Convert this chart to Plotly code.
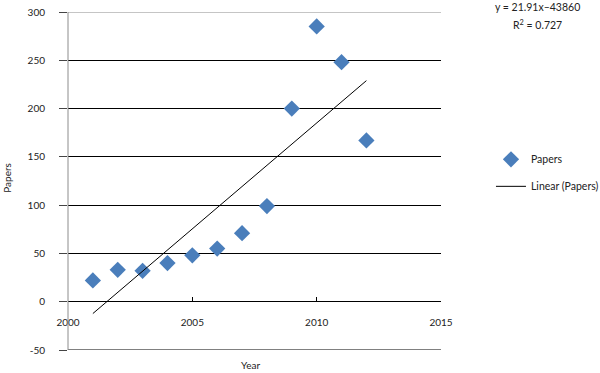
import numpy as np
import plotly.graph_objects as go

years = [2001, 2002, 2003, 2004, 2005, 2006, 2007, 2008, 2009, 2010, 2011, 2012]
papers = [22, 33, 32, 40, 48, 55, 71, 99, 200, 285, 248, 167]
x_ticks = [2000, 2005, 2010, 2015]
y_ticks = [-50, 0, 50, 100, 150, 200, 250, 300]
y_tick_text = ["-50", "0", "50", "100", "150", "200", "250", "300"]
equation = "y = 21.91x\u201343860"
r2_text = "R<sup>2</sup> = 0.727"

slope, intercept = np.polyfit(years, papers, 1)
trend_x = [years[0], years[-1]]
trend_y = [slope * v + intercept for v in trend_x]

FONT = "Lato, Open Sans, sans-serif"
TXT = "#222222"
fig = go.Figure()
fig.add_trace(go.Scatter(
    x=years, y=papers, mode="markers", name="Papers",
    marker=dict(symbol="diamond", size=12.5, color="#4A7EBB"),
    legendgroup="a", cliponaxis=False))
fig.add_trace(go.Scatter(
    x=trend_x, y=trend_y, mode="lines", name="Linear (Papers)",
    line=dict(color="#000000", width=1), legendgroup="b"))

fig.update_layout(
    width=600, height=373,
    margin=dict(l=68, r=159, t=12, b=23, autoexpand=False),
    plot_bgcolor="white", paper_bgcolor="white",
    font=dict(family=FONT, size=10, color=TXT),
    showlegend=True,
    legend=dict(x=1.134, y=0.607, xanchor="left", yanchor="top",
                font=dict(size=10.5, color=TXT),
                traceorder="grouped", tracegroupgap=8,
                bgcolor="rgba(0,0,0,0)"),
    xaxis=dict(range=[2000, 2015], tickvals=x_ticks, showgrid=False,
               zeroline=False, showline=False,
               anchor="free", position=50 / 350, automargin=False,
               ticks="inside", ticklen=5, tickcolor="#000000",
               ticklabelstandoff=13,
               tickfont=dict(size=10, color=TXT)),
    yaxis=dict(range=[-50, 300], tickvals=y_ticks, ticktext=y_tick_text,
               showgrid=True, automargin=False,
               gridcolor="#000000", gridwidth=1, zeroline=False,
               showline=False,
               ticks="outside", ticklen=8, tickcolor="#444444",
               ticklabelstandoff=12,
               tickfont=dict(size=10, color=TXT)),
    shapes=[
        dict(type="line", xref="paper", yref="y", x0=0, x1=1, y0=300, y1=300,
             line=dict(color="#8c8c8c", width=1)),
        dict(type="line", xref="paper", yref="y", x0=0, x1=1, y0=-50, y1=-50,
             line=dict(color="#000000", width=1)),
        dict(type="line", xref="paper", yref="paper", x0=0, x1=0, y0=0, y1=1,
             line=dict(color="#8c8c8c", width=1)),
    ],
    annotations=[
        dict(text="Papers", textangle=-90, xref="paper", yref="paper",
             x=-0.164, y=0.509, xanchor="center", yanchor="middle",
             showarrow=False, font=dict(size=10)),
        dict(text="Year", xref="paper", yref="paper", x=0.488, y=-0.044,
             xanchor="center", yanchor="middle", showarrow=False, font=dict(size=10)),
        dict(text=equation, xref="paper", yref="paper", x=1.26, y=1.015,
             xanchor="center", yanchor="middle", showarrow=False, font=dict(size=10.5)),
        dict(text=r2_text, xref="paper", yref="paper", x=1.26, y=0.964,
             xanchor="center", yanchor="middle", showarrow=False, font=dict(size=10.5)),
    ],
)
fig.write_html("out.html", config={"displayModeBar": False},
               post_script="document.body.style.margin='0';document.body.style.overflow='hidden';")
